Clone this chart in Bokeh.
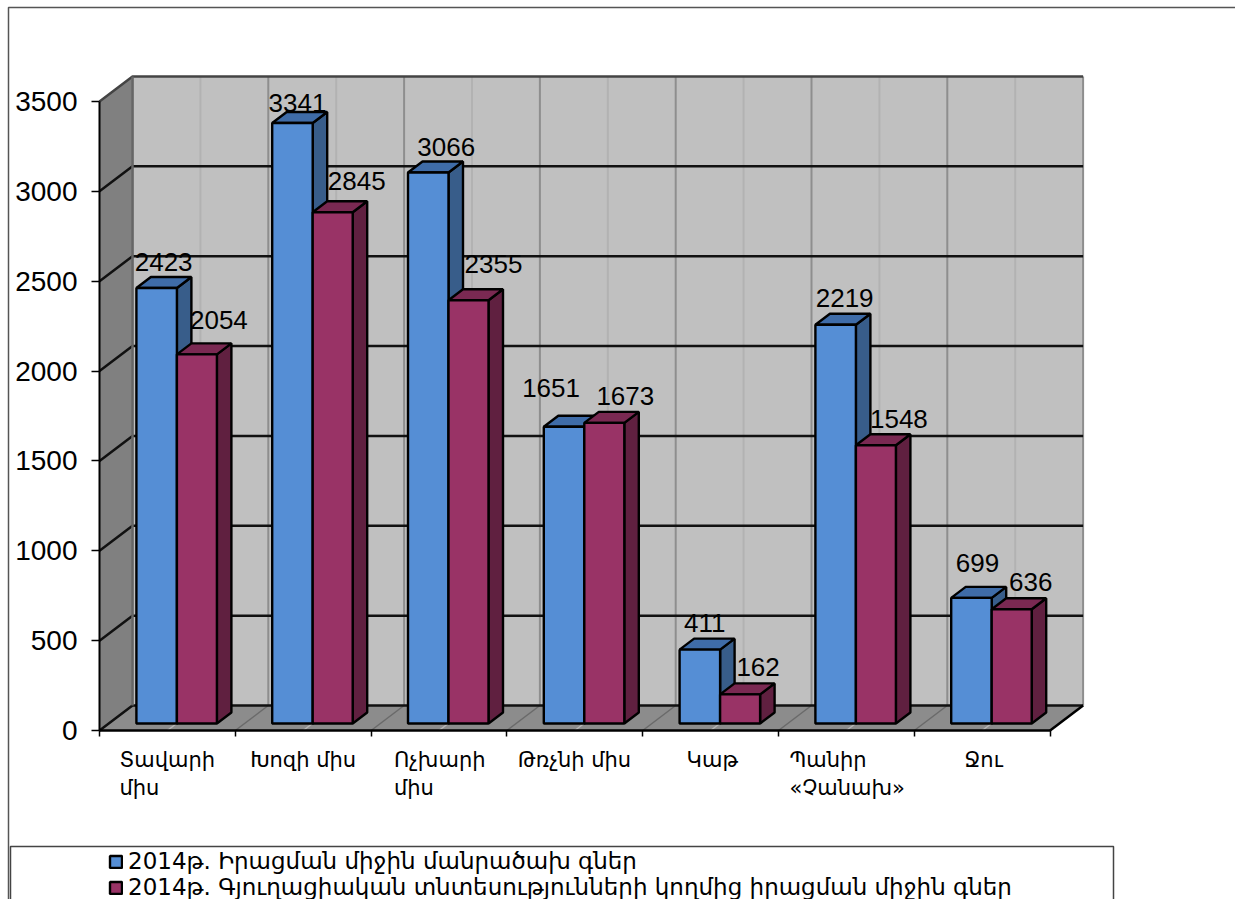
from bokeh.plotting import figure
from bokeh.embed import file_html
from bokeh.resources import INLINE
from bokeh.models import (ColumnDataSource, Range1d, FixedTicker, LabelSet, Legend, LegendItem, BoxAnnotation)
from bokeh.core.properties import value

categories = ["Տավարի\nմիս", "Խոզի միս", "Ոչխարի\nմիս", "Թռչնի միս", "Կաթ", "Պանիր\n«Չանախ»", "Ջու"]
retail = [2423, 3341, 3066, 1651, 411, 2219, 699]
farm = [2054, 2845, 2355, 1673, 162, 1548, 636]
series_names = ["2014թ. Իրացման միջին մանրածախ գներ",
                "2014թ. Գյուղացիական տնտեսությունների կողմից իրացման միջին գներ"]
y_ticks = [0, 500, 1000, 1500, 2000, 2500, 3000, 3500]

# layout (pixels)
W, H = 1235, 899
X0, Y0 = 99, 730    # pixel of the chart origin
PX = 135.8          # px per category
PY = 629 / 3500     # px per unit
WALL_DX, WALL_DY = 33 / PX, 25 / PY
BAR_DX0, BAR_DY0 = 9.5 / PX, 7 / PY
BAR_DX1, BAR_DY1 = 24 / PX, 18 / PY
BLUE_W, RED_W = 40.5 / PX, 40 / PX
label_nudge_x = [-48, -53, -45, -57, -24, -57, -18]
retail_lab_dx = [7, 5, 18, -13, 5, 9, 6]
retail_lab_dy = [-26, -20, -25, -39, -27, -27, -35]
farm_lab_dx = [22, 24, 25, 21, 18, 23, 19]
farm_lab_dy = [-34, -31, -36, -27, -27, -26, -27]
NUM_FONT = "Liberation Sans"
ARM_FONT = "DejaVu Sans"

n = len(categories)
p = figure(width=W, height=H, output_backend="svg", toolbar_location=None,
           x_range=Range1d(-X0 / PX, (W - X0) / PX), y_range=Range1d(-(H - Y0) / PY, Y0 / PY),
           min_border=0,
           background_fill_color="white", border_fill_color="white", outline_line_color=None)
p.grid.visible = False

ymax = y_ticks[-1]
# walls
p.patch([0, WALL_DX, WALL_DX, 0], [0, WALL_DY, ymax + WALL_DY, ymax], fill_color="#808080", line_color=None)
p.patch([0, n, n + WALL_DX, WALL_DX], [0, 0, WALL_DY, WALL_DY], fill_color="#8c8c8c", line_color=None)
p.patch([WALL_DX, n + WALL_DX, n + WALL_DX, WALL_DX], [WALL_DY, WALL_DY, ymax + WALL_DY, ymax + WALL_DY],
        fill_color="#c0c0c0", line_color=None)
# vertical lines on wall and floor
for i in range(2 * n + 1):
    xv = i / 2
    major = i % 2 == 0
    col = "#8e8e8e" if major else "#b2b2b2"
    p.line([xv + WALL_DX] * 2, [WALL_DY, ymax + WALL_DY], line_color=col, line_width=2)
    p.line([xv, xv + WALL_DX], [0, WALL_DY], line_color="#6a6a6a" if major else "#b8b8b8", line_width=1.5)
# horizontal gridlines
for t in y_ticks:
    p.line([0, WALL_DX, n + WALL_DX], [t, t + WALL_DY, t + WALL_DY],
           line_color="#111111" if t < ymax else "#444444", line_width=2.5)
p.line([n, n + WALL_DX], [0, WALL_DY], line_color="black", line_width=2.5)
p.line([WALL_DX, WALL_DX], [WALL_DY, ymax + WALL_DY], line_color="#666666", line_width=2.5)


def bars(vals, offs, w, front, top, side):
    fx, fy, tx, ty, sx, sy = [], [], [], [], [], []
    for i, v in enumerate(vals):
        c = i + 0.5 + BAR_DX0 + offs
        l, r = c, c + w
        b, h = BAR_DY0, v + BAR_DY0
        d0, d1 = BAR_DX1 - BAR_DX0, BAR_DY1 - BAR_DY0
        fx.append([l, r, r, l]); fy.append([b, b, h, h])
        tx.append([l, r, r + d0, l + d0]); ty.append([h, h, h + d1, h + d1])
        sx.append([r, r + d0, r + d0, r]); sy.append([b, b + d1, h + d1, h])
    p.patches(sx, sy, fill_color=side, line_color="black", line_width=2.4)
    p.patches(tx, ty, fill_color=top, line_color="black", line_width=2.4)
    return p.patches(fx, fy, fill_color=front, line_color="black", line_width=2.4)


r1 = bars(retail, -BLUE_W, BLUE_W, "#558ed5", "#3f6ca8", "#385d8a")
r2 = bars(farm, 0, RED_W, "#993366", "#7a2952", "#602040")

# data labels
for vals, offs, dx, dy in [(retail, -BLUE_W / 2, retail_lab_dx, retail_lab_dy),
                           (farm, RED_W / 2, farm_lab_dx, farm_lab_dy)]:
    src = ColumnDataSource(dict(
        x=[i + 0.5 + BAR_DX0 + offs for i in range(n)],
        y=[v + BAR_DY0 for v in vals],
        t=[str(v) for v in vals], dx=dx, dy=dy))
    p.text("x", "y", text="t", x_offset="dx", y_offset="dy", source=src, text_align="center",
           text_baseline="middle", text_font=value(NUM_FONT), text_font_size="26px", text_color="black")

# axes
ya, xa = p.yaxis[0], p.xaxis[0]
ya.fixed_location = 0
xa.fixed_location = 0
ya.ticker = FixedTicker(ticks=y_ticks)
ya.bounds = (0, ymax)
ya.axis_line_color = "black"; ya.axis_line_width = 2
ya.major_tick_out = 8; ya.major_tick_in = 0; ya.minor_tick_out = 0; ya.minor_tick_in = 0
ya.major_tick_line_color = "black"; ya.major_tick_line_width = 1.5
ya.major_label_standoff = 14
ya.major_label_text_font = NUM_FONT; ya.major_label_text_font_size = "28px"; ya.major_label_text_color = "black"
xa.ticker = FixedTicker(ticks=list(range(n + 1)))
xa.bounds = (0, n)
xa.axis_line_color = "black"; xa.axis_line_width = 2.5
xa.major_tick_out = 6; xa.major_tick_in = 0; xa.minor_tick_out = 0; xa.minor_tick_in = 0
xa.major_tick_line_color = "black"; xa.major_tick_line_width = 1.5
xa.major_label_overrides = {i: "" for i in range(n + 1)}

# category labels
cat_src = ColumnDataSource(dict(x=[i + 0.5 + d / PX for i, d in enumerate(label_nudge_x)], y=[0] * n, t=categories))
p.add_layout(LabelSet(x="x", y="y", text="t", source=cat_src, y_offset=-17, text_align="left", text_baseline="top",
                      text_font=value(ARM_FONT), text_font_size="21px", text_color="black", text_line_height=1.18))

# legend
leg = Legend(items=[LegendItem(label=series_names[0], renderers=[r1]),
                    LegendItem(label=series_names[1], renderers=[r2])],
             location=(108, -1), orientation="vertical", padding=0, margin=0, spacing=0,
             glyph_width=15, glyph_height=15, label_standoff=5, label_height=26,
             border_line_color=None, background_fill_alpha=0,
             label_text_font=ARM_FONT, label_text_font_size="23px", label_text_color="black")
p.add_layout(leg)

# frames (screen y counts up from the bottom of the canvas here)
p.add_layout(BoxAnnotation(left=8, right=1400, top=H - 7, bottom=-100, left_units="screen", right_units="screen",
                           top_units="screen", bottom_units="screen", fill_alpha=0, line_color="#555555",
                           line_alpha=1, line_width=1.5))
p.add_layout(BoxAnnotation(left=10, right=1113, top=H - 846, bottom=-100, left_units="screen", right_units="screen",
                           top_units="screen", bottom_units="screen", fill_alpha=0, line_color="#444444",
                           line_alpha=1, line_width=1.5))

open("out.html", "w").write(file_html(p, INLINE))
